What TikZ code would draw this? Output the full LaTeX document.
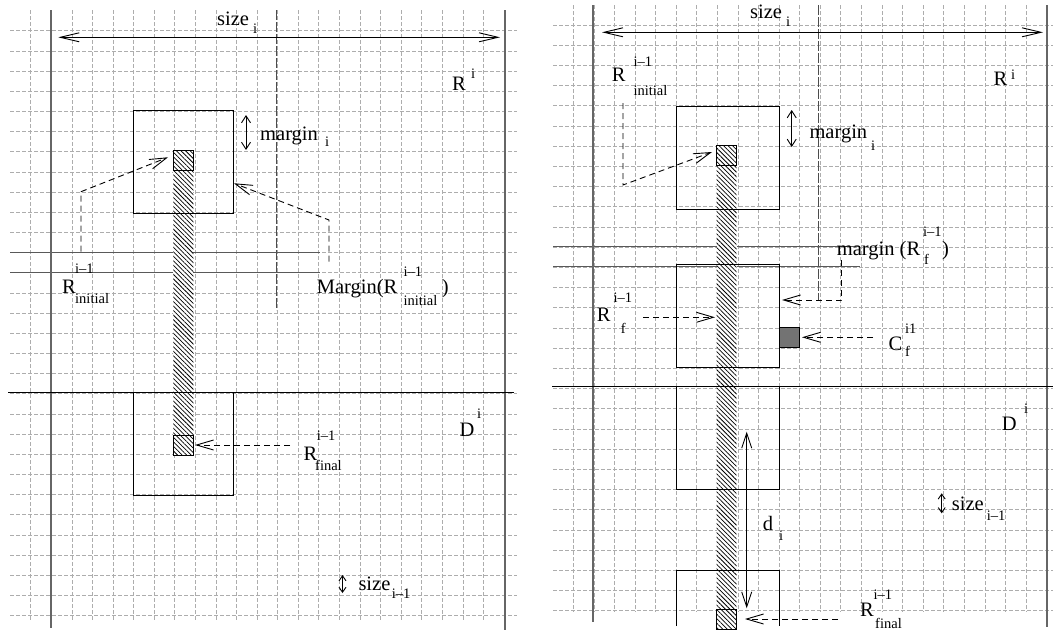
\documentclass[tikz,border=0pt]{standalone}
\usepackage{fontspec}
\setmainfont{Liberation Serif}
\usetikzlibrary{arrows.meta,patterns.meta}
\begin{document}
\begin{tikzpicture}[x=1pt,y=-1pt,
  grid/.style={black!32, line width=0.7pt, dash pattern=on 3.5pt off 2.5pt},
  panel/.style={black!60, line width=1.8pt},
  guide/.style={black!65, line width=0.8pt},
  longdash/.style={black!70, line width=0.8pt, dash pattern=on 10pt off 2pt},
  boxline/.style={black, line width=1pt},
  hatch/.style={pattern={Lines[angle=-45,distance=3.2pt,line width=0.75pt]}, pattern color=black},
  bigdim/.style={black, line width=0.9pt, {Straight Barb[length=19pt,width=9pt]}-{Straight Barb[length=19pt,width=9pt]}},
  middim/.style={black, line width=0.9pt, {Straight Barb[length=15pt,width=10pt]}-{Straight Barb[length=15pt,width=10pt]}},
  margdim/.style={black, line width=0.9pt, {Straight Barb[length=7pt,width=9pt]}-{Straight Barb[length=7pt,width=9pt]}},
  smalldim/.style={black, line width=0.9pt, {Straight Barb[length=5pt,width=7pt]}-{Straight Barb[length=5pt,width=7pt]}},
  pointer/.style={black, line width=0.9pt, dash pattern=on 6pt off 4pt, -{Straight Barb[length=17pt,width=10pt]}},
  lbl/.style={inner sep=0pt, anchor=base west, font=\fontsize{20.5}{24}\selectfont},
  sub/.style={inner sep=0pt, anchor=base west, font=\fontsize{14.5}{17}\selectfont},
]
\useasboundingbox (0,0) rectangle (1053,635);
\fill[white] (0,0) rectangle (1053,635);

% ---------------- grids ----------------
\foreach \k in {0,...,29} {
  \draw[grid] (10,{30.7+20.17*\k}) -- (517,{30.7+20.17*\k});
  \draw[grid] (553,{25+20.2*\k}) -- (1053,{25+20.2*\k});
}
\foreach \k in {0,...,23} {
  \draw[grid] ({30.7+20.58*\k},10) -- ({30.7+20.58*\k},620);
  \draw[grid] ({573.3+20.58*\k},5) -- ({573.3+20.58*\k},612);
}

% ---------------- left panel ----------------
\draw[longdash] (276.7,10) -- (276.7,310);
\draw[guide] (10,252.3) -- (320,252.3);
\draw[guide] (10,272.3) -- (320,272.3);
\draw[panel] (51,10) -- (51,628);
\draw[panel] (504.7,10) -- (504.7,630);
\draw[black, line width=1.1pt] (8,392.7) -- (514,392.7);

\fill[white] (173.3,150.3) rectangle (193.3,455);
\path[hatch] (173.3,150.3) rectangle (193.3,455);
\draw[boxline] (133.3,110.7) rectangle (233.3,213.3);
\draw[boxline] (133.3,392.7) rectangle (233.3,495);
\draw[boxline] (173.3,150.3) rectangle (193.3,170.7);
\draw[boxline] (173.3,435) rectangle (193.3,455);

\coordinate (Ls0) at (58.3,37.3);
\coordinate (Ls1) at (500,37.3);
\draw[bigdim] (Ls0) -- (Ls1);
\coordinate (Lm0) at (246,115);
\coordinate (Lm1) at (246,150);
\draw[margdim] (Lm0) -- (Lm1);
\coordinate (Lz0) at (342.5,575);
\coordinate (Lz1) at (342.5,593);
\draw[smalldim] (Lz0) -- (Lz1);

\coordinate (La0) at (81,251.7);
\coordinate (La1) at (81,191.7);
\coordinate (La2) at (168,157.3);
\draw[pointer] (La0) -- (La1) -- (La2);
\coordinate (Lb0) at (329,261.7);
\coordinate (Lb1) at (329,220);
\coordinate (Lb2) at (234,183.3);
\draw[pointer] (Lb0) -- (Lb1) -- (Lb2);
\coordinate (Lc0) at (290,445);
\coordinate (Lc1) at (195,445);
\draw[pointer] (Lc0) -- (Lc1);

\node[lbl] (Lsize) at (217,25) {size};
\node[sub] (Lsizei) at (253,33) {i};
\node[lbl] (LR) at (452,90.7) {R};
\node[sub] (LRi) at (471,78) {i};
\node[lbl] (Lmargin) at (260,140) {margin};
\node[sub] (Lmargini) at (325,146) {i};
\node[lbl] (LRinit) at (62,293.3) {R};
\node[sub] (LRinitsup) at (75,273.3) {i–1};
\node[sub] (LRinitsub) at (75,303.3) {initial};
\node[lbl] (LMargin) at (316.7,293.3) {Margin(R};
\node[sub] (LMarginsup) at (403.3,276.7) {i–1};
\node[sub] (LMarginsub) at (403.3,305) {initial};
\node[lbl] (LMarginclose) at (441.7,293.3) {)};
\node[lbl] (LRfin) at (303.3,460) {R};
\node[sub] (LRfinsup) at (316.7,440) {i–1};
\node[sub] (LRfinsub) at (315,470) {final};
\node[lbl] (LD) at (459.3,436.7) {D};
\node[sub] (LDi) at (477,418.3) {i};
\node[lbl] (Lsizem) at (358.3,590) {size};
\node[sub] (Lsizemsub) at (391.7,598.3) {i–1};

% ---------------- right panel ----------------
\draw[longdash] (818.7,5) -- (818.7,300);
\draw[guide] (553,246.7) -- (860,246.7);
\draw[guide] (553,266.7) -- (860,266.7);
\draw[panel] (593,5) -- (593,622);
\draw[panel] (1047,5) -- (1047,627);
\draw[black, line width=1.1pt] (552,386.7) -- (1053,386.7);

\fill[white] (716.7,145) rectangle (736.7,629);
\path[hatch] (716.7,145) rectangle (736.7,629);
\draw[boxline] (676.7,106) rectangle (779.3,209);
\draw[boxline] (676.7,264.3) rectangle (779.3,367);
\draw[boxline] (676.7,386.7) rectangle (779.3,489.3);
\draw[boxline] (676.7,626) -- (676.7,570) -- (779.3,570) -- (779.3,626);
\draw[boxline] (716.7,145) rectangle (736.7,165);
\draw[boxline] (716.7,609) rectangle (736.7,629);
\draw[boxline, fill=black!55] (779.3,327.7) rectangle (799.3,347.3);

\coordinate (Rs0) at (602,32.3);
\coordinate (Rs1) at (1043,32.3);
\draw[bigdim] (Rs0) -- (Rs1);
\coordinate (Rm0) at (791.7,110);
\coordinate (Rm1) at (791.7,147);
\draw[margdim] (Rm0) -- (Rm1);
\coordinate (Rz0) at (941.7,493.3);
\coordinate (Rz1) at (941.7,513.3);
\draw[smalldim] (Rz0) -- (Rz1);
\coordinate (Rd0) at (746.7,431.7);
\coordinate (Rd1) at (746.7,608.3);
\draw[middim] (Rd0) -- (Rd1);

\coordinate (Ra0) at (623,103);
\coordinate (Ra1) at (623,185);
\coordinate (Ra2) at (712,152);
\draw[pointer] (Ra0) -- (Ra1) -- (Ra2);
\coordinate (Rb0) at (643,317.3);
\coordinate (Rb1) at (715,317.3);
\draw[pointer] (Rb0) -- (Rb1);
\coordinate (Rc0) at (841.7,260);
\coordinate (Rc1) at (841.7,300);
\coordinate (Rc2) at (782,300);
\draw[pointer] (Rc0) -- (Rc1) -- (Rc2);
\coordinate (Rp0) at (873,337.3);
\coordinate (Rp1) at (802,337.3);
\draw[pointer] (Rp0) -- (Rp1);
\coordinate (Re0) at (838,619);
\coordinate (Re1) at (745,619);
\draw[pointer] (Re0) -- (Re1);

\node[lbl] (Rsize) at (750,18.3) {size};
\node[sub] (Rsizei) at (786,26.7) {i};
\node[lbl] (RR) at (993.3,85) {R};
\node[sub] (RRi) at (1011,79) {i};
\node[lbl] (Rmargin) at (809.3,138.3) {margin};
\node[sub] (Rmargini) at (871,150) {i};
\node[lbl] (RRinit) at (611.7,81.7) {R};
\node[sub] (RRinitsup) at (633.3,66.7) {i–1};
\node[sub] (RRinitsub) at (633.3,95) {initial};
\node[lbl] (RRf) at (596.7,321.7) {R};
\node[sub] (RRfsup) at (613.3,302.7) {i–1};
\node[sub] (RRfsub) at (620.7,333.3) {f};
\node[lbl] (Rmarg) at (836.7,255) {margin (R};
\node[sub] (Rmargsup) at (923,236) {i–1};
\node[sub] (Rmargsub) at (924,264) {f};
\node[lbl] (Rmargclose) at (942,255) {)};
\node[lbl] (RC) at (888.3,350) {C};
\node[sub] (RCsup) at (905,333.3) {i1};
\node[sub] (RCsub) at (905,356.7) {f};
\node[lbl] (RD) at (1001.7,430) {D};
\node[sub] (RDi) at (1024,413.3) {i};
\node[lbl] (Rsizem) at (951.7,510) {size};
\node[sub] (Rsizemsub) at (986.7,520) {i–1};
\node[lbl] (Rdl) at (762.7,530) {d};
\node[sub] (Rdli) at (779,540) {i};
\node[lbl] (RRfin) at (860,616.7) {R};
\node[sub] (RRfinsup) at (873.3,599) {i–1};
\node[sub] (RRfinsub) at (875,628.3) {final};
\end{tikzpicture}
\end{document}
